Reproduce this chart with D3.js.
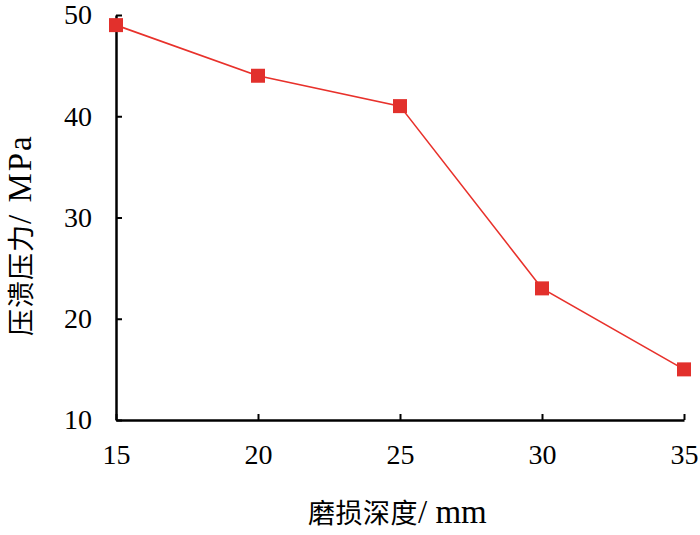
<!DOCTYPE html>
<html>
<head>
<meta charset="utf-8">
<script src="https://cdn.jsdelivr.net/npm/d3@7"></script>
<style>
  body { margin: 0; background: #fff; }
  text { font-family: "Liberation Serif", "Times New Roman", serif; }
</style>
</head>
<body>
<div id="chart"></div>
<script>
// Data
const depths = [15, 20, 25, 30, 35];
const pressures = [49, 44, 41, 23, 15];
const xTicks = [15, 20, 25, 30, 35];
const yTicks = [10, 20, 30, 40, 50];

const W = 700, H = 535;
const margin = { top: 15, right: 16, bottom: 115, left: 116 };

const svg = d3.select('#chart').append('svg')
    .attr('width', W)
    .attr('height', H);

const x = d3.scaleLinear().domain([15, 35]).range([margin.left, W - margin.right]);
const y = d3.scaleLinear().domain([10, 50]).range([H - margin.bottom, margin.top]);

// Axes - ticks point inward
const xAxis = svg.append('g')
    .attr('transform', `translate(0,${y(10)})`)
    .call(d3.axisBottom(x).tickValues(xTicks).tickSizeInner(-6).tickSizeOuter(0).tickPadding(24));
const yAxis = svg.append('g')
    .attr('transform', `translate(${x(15)},0)`)
    .call(d3.axisLeft(y).tickValues(yTicks).tickSizeInner(-6).tickSizeOuter(0).tickPadding(24));

[xAxis, yAxis].forEach(g => {
    g.select('.domain').attr('stroke', '#000').attr('stroke-width', 2.5);
    g.selectAll('.tick line').attr('stroke', '#000').attr('stroke-width', 2);
    g.selectAll('.tick text')
        .attr('fill', '#000')
        .style('font-family', '"Liberation Serif", serif')
        .style('font-size', '28px');
});

// Line
const line = d3.line()
    .x((d, i) => x(depths[i]))
    .y(d => y(d));

svg.append('path')
    .datum(pressures)
    .attr('fill', 'none')
    .attr('stroke', '#e8312b')
    .attr('stroke-width', 1.6)
    .attr('d', line);

// Square markers
const s = 14;
svg.selectAll('.marker')
    .data(pressures)
    .enter()
    .append('rect')
    .attr('class', 'marker')
    .attr('x', (d, i) => x(depths[i]) - s / 2)
    .attr('y', d => y(d) - s / 2)
    .attr('width', s)
    .attr('height', s)
    .attr('fill', '#e2302c');

// Axis titles
const yTitle = svg.append('text')
    .attr('transform', `translate(31,336) rotate(-90)`)
    .attr('text-anchor', 'start')
    .attr('fill', '#000');
yTitle.append('tspan')
    .style('font-family', '"Noto Sans CJK SC"')
    .style('font-size', '27px')
    .style('letter-spacing', '1px')
    .text('压溃压力');
yTitle.append('tspan')
    .style('font-size', '33px')
    .style('letter-spacing', '2px')
    .text('/ MPa');

const xTitle = svg.append('text')
    .attr('x', 308)
    .attr('y', 523)
    .attr('text-anchor', 'start')
    .attr('fill', '#000');
xTitle.append('tspan')
    .style('font-family', '"Noto Sans CJK SC"')
    .style('font-size', '27px')
    .style('letter-spacing', '0.5px')
    .text('磨损深度');
xTitle.append('tspan')
    .style('font-size', '33px')
    .text('/ mm');
</script>
</body>
</html>
